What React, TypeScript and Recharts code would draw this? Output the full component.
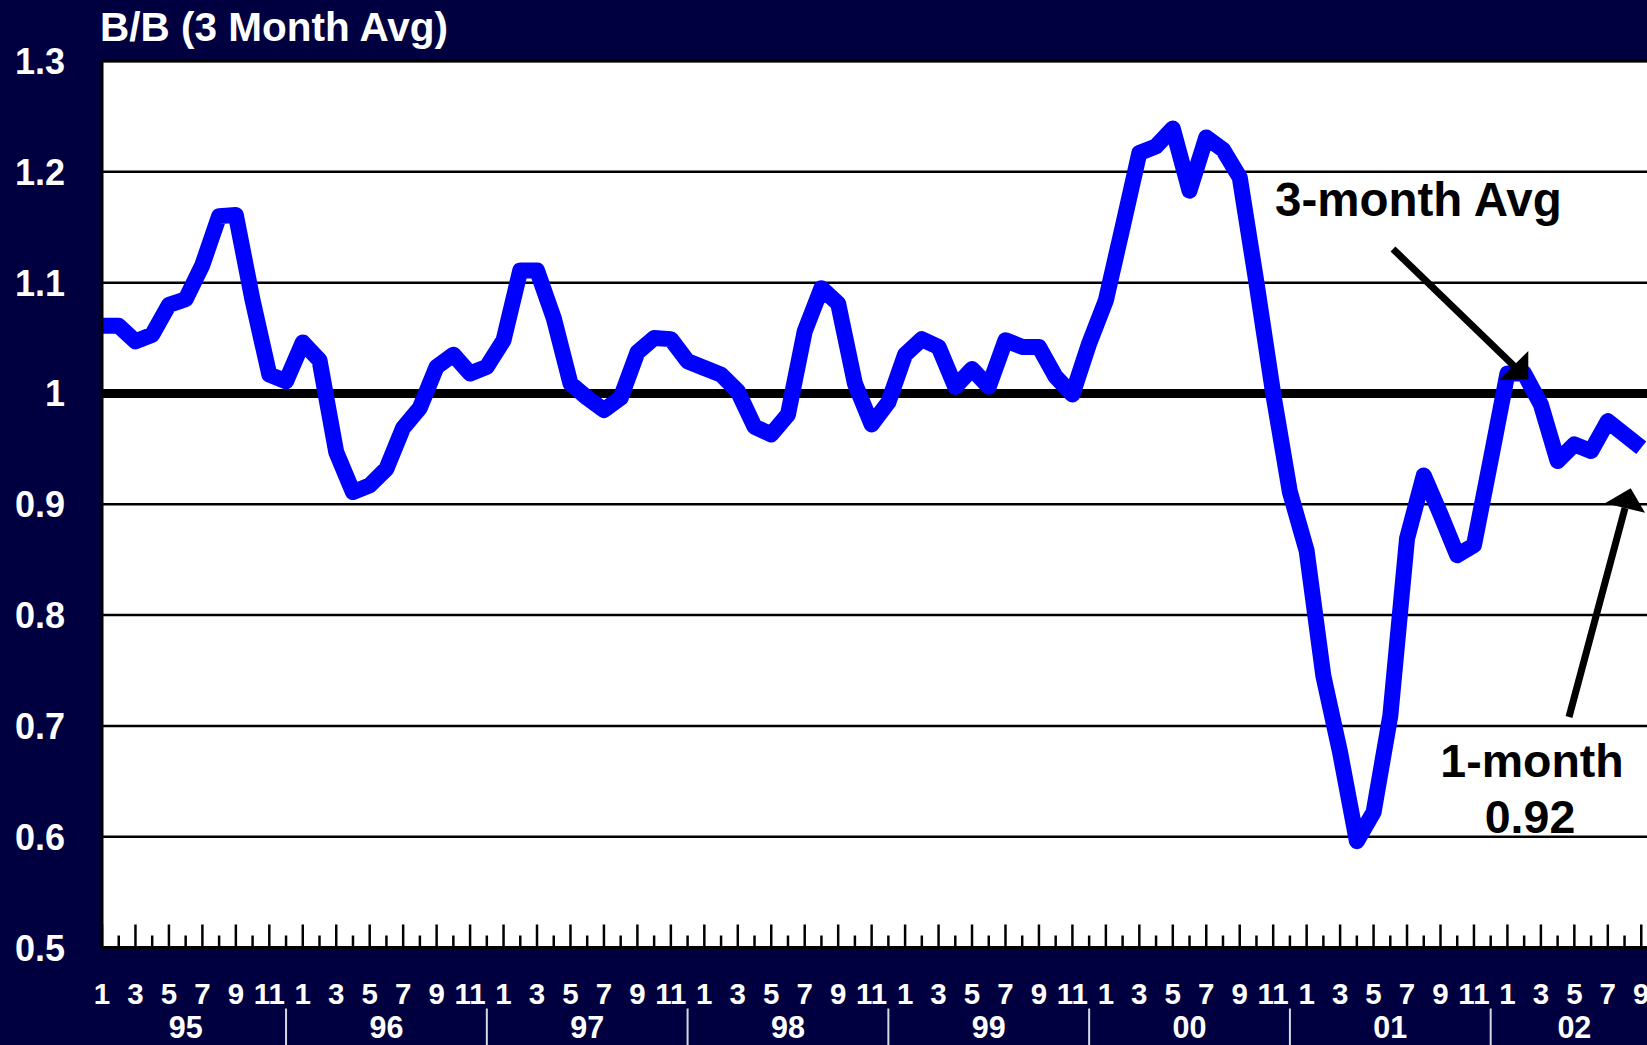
import React from "react";
import { LineChart, Line, XAxis, YAxis, CartesianGrid, ReferenceLine } from "recharts";

// Book-to-bill, 3 month average, by year (months 1..12)
const years = ["95", "96", "97", "98", "99", "00", "01", "02"];
const b95 = [1.061, 1.061, 1.047, 1.053, 1.08, 1.085, 1.116, 1.16, 1.161, 1.084, 1.017, 1.011];
const b96 = [1.046, 1.03, 0.947, 0.911, 0.917, 0.932, 0.969, 0.987, 1.024, 1.035, 1.018, 1.024];
const b97 = [1.048, 1.111, 1.111, 1.068, 1.009, 0.996, 0.985, 0.996, 1.037, 1.05, 1.049, 1.029];
const b98 = [1.023, 1.017, 1.002, 0.97, 0.963, 0.981, 1.056, 1.095, 1.081, 1.009, 0.972, 0.992];
const b99 = [1.035, 1.049, 1.042, 1.006, 1.022, 1.006, 1.048, 1.042, 1.042, 1.015, 0.999, 1.045];
const b00 = [1.084, 1.15, 1.217, 1.223, 1.239, 1.183, 1.231, 1.22, 1.195, 1.1, 1.0, 0.911];
const b01 = [0.858, 0.745, 0.676, 0.596, 0.622, 0.709, 0.869, 0.926, 0.891, 0.854, 0.863, 0.94];
const b02 = [1.018, 1.018, 0.99, 0.939, 0.954, 0.948, 0.975, 0.963, 0.951];
const seriesByYear = [b95, b96, b97, b98, b99, b00, b01, b02];

const yTicks = [0.5, 0.6, 0.7, 0.8, 0.9, 1.0, 1.1, 1.2, 1.3];
const title = "B/B (3 Month Avg)";
const note3m = "3-month Avg";
const note1mA = "1-month";
const note1mB = "0.92";

type Row = { i: number; month: number; year: string; v: number };
const data: Row[] = [];
seriesByYear.forEach((arr, yi) => {
  arr.forEach((v, mi) => {
    data.push({ i: yi * 12 + mi, month: mi + 1, year: years[yi], v });
  });
});
const xTicks = data.map((d) => d.i);
const X_END = data.length; // domain end (one slot past last month)

// index at which each year's label is centred: midway between its separators
const yearLabelIndex: Record<number, string> = {};
seriesByYear.forEach((arr, yi) => {
  const start = yi * 12 - 1;
  const end = arr.length === 12 ? yi * 12 + 11 : X_END;
  yearLabelIndex[Math.round((start + end) / 2)] = years[yi];
});

const FONT = "'Liberation Sans', Arial, Helvetica, sans-serif";
const NAVY = "#000040";

const XTick = (props: any) => {
  const { x, y, payload } = props;
  const idx = payload.value as number;
  const row = data[idx];
  if (!row) return null;
  const m = row.month;
  const long = m % 2 === 1;
  const yl = yearLabelIndex[idx];
  return (
    <g>
      <line x1={x} x2={x} y1={y} y2={y - (long ? 23 : 12)} stroke="#000" strokeWidth={2.5} />
      {long && (
        <text x={x} y={y + 56.5} textAnchor="middle" fill="#fff" fontFamily={FONT} fontWeight="bold" fontSize={29.5}>
          {String(m)}
        </text>
      )}
      {yl && (
        <text x={x} y={y + 90} textAnchor="middle" fill="#fff" fontFamily={FONT} fontWeight="bold" fontSize={30.5}>
          {yl}
        </text>
      )}
      {m === 12 && <line x1={x} x2={x} y1={y + 61} y2={y + 104} stroke="#d8d8e4" strokeWidth={2} />}
    </g>
  );
};

const YTick = (props: any) => {
  const { y, payload } = props;
  const v = payload.value as number;
  const label = Math.abs(v - 1) < 1e-9 ? "1" : v.toFixed(1);
  return (
    <text x={65} y={y + 13} textAnchor="end" fill="#fff" fontFamily={FONT} fontWeight="bold" fontSize={36}>
      {label}
    </text>
  );
};

export default function App() {
  return (
    <div
      style={{
        position: "fixed",
        left: 0,
        top: 0,
        width: 1647,
        height: 1045,
        overflow: "hidden",
        background: NAVY,
      }}
    >
      <div style={{ position: "absolute", left: 0, top: 0 }}>
        <LineChart width={1658} height={1045} data={data} margin={{ top: 61, right: 0, bottom: 0, left: 0 }}>
          <CartesianGrid horizontal vertical={false} stroke="#000" strokeWidth={2.5} fill="#ffffff" fillOpacity={1} />
          <ReferenceLine y={1} stroke="#000" strokeWidth={9} />
          <ReferenceLine y={1.3} stroke="#000" strokeWidth={3} />
          <Line
            type="linear"
            dataKey="v"
            stroke="#0000ff"
            strokeWidth={16}
            strokeLinejoin="round"
            dot={false}
            activeDot={false}
            isAnimationActive={false}
          />
          <XAxis
            dataKey="i"
            type="number"
            domain={[0, X_END]}
            ticks={xTicks}
            interval={0}
            allowDataOverflow
            height={97.5}
            tickSize={0}
            tickMargin={0}
            tickLine={false}
            axisLine={{ stroke: "#000", strokeWidth: 3 }}
            tick={<XTick />}
          />
          <YAxis
            type="number"
            domain={[0.5, 1.3]}
            ticks={yTicks}
            interval={0}
            allowDataOverflow
            width={102}
            tickSize={0}
            tickMargin={0}
            tickLine={false}
            axisLine={{ stroke: "#000", strokeWidth: 3 }}
            tick={<YTick />}
          />
        </LineChart>
      </div>
      <svg width={1647} height={1045} style={{ position: "absolute", left: 0, top: 0, pointerEvents: "none" }}>
        <text x={100} y={41} fill="#fff" fontFamily={FONT} fontWeight="bold" fontSize={40.5}>
          {title}
        </text>
        <text x={1275} y={216} fill="#000" fontFamily={FONT} fontWeight="bold" fontSize={47.5}>
          {note3m}
        </text>
        <line x1={1393} y1={249} x2={1514} y2={366} stroke="#000" strokeWidth={7} />
        <polygon points="1528.3,379.3 1499,380 1528.3,351" fill="#000" />
        <text x={1532} y={776.7} textAnchor="middle" fill="#000" fontFamily={FONT} fontWeight="bold" fontSize={46.5}>
          {note1mA}
        </text>
        <text x={1530} y={833.3} textAnchor="middle" fill="#000" fontFamily={FONT} fontWeight="bold" fontSize={46.5}>
          {note1mB}
        </text>
        <line x1={1569} y1={717} x2={1625} y2={508} stroke="#000" strokeWidth={7} />
        <polygon points="1630.7,488.3 1605,503.3 1645,512.7" fill="#000" />
      </svg>
    </div>
  );
}
